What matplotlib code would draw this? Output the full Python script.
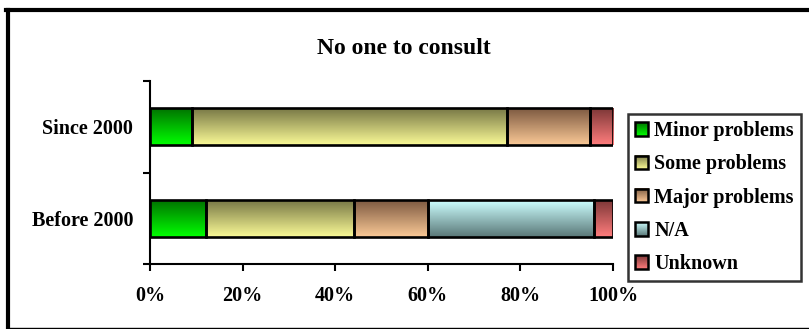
import numpy as np
import matplotlib
matplotlib.use("Agg")
import matplotlib.pyplot as plt
from matplotlib.patches import Patch, Rectangle
from matplotlib.lines import Line2D
from matplotlib.legend_handler import HandlerBase
from matplotlib.image import BboxImage
from matplotlib.transforms import Bbox, TransformedBbox

# ---- data ----
periods = ["Before 2000", "Since 2000"]
series = ["Minor problems", "Some problems", "Major problems", "N/A", "Unknown"]
minor = [12, 9]
some = [32, 68]
major = [16, 18]
na = [36, 0]
unknown = [4, 5]
xticklabels = ["0%", "20%", "40%", "60%", "80%", "100%"]

# vertical gradient (top colour, bottom colour) for each series
gradients = [
    ((0, 115, 0), (0, 255, 0)),
    ((120, 120, 70), (250, 250, 150)),
    ((125, 90, 65), (250, 200, 150)),
    ((205, 255, 255), (90, 120, 120)),
    ((125, 55, 55), (255, 125, 125)),
]

plt.rcParams["font.family"] = ["Liberation Serif", "DejaVu Serif"]
plt.rcParams["font.weight"] = "bold"

W, H = 809, 329
fig = plt.figure(figsize=(W / 100, H / 100), dpi=100)
ax = fig.add_axes([150 / W, (H - 264) / H, (613 - 150) / W, (264 - 81) / H])


def gradient_array(ctop, cbot, n=64):
    g = np.linspace(np.array(ctop) / 255, np.array(cbot) / 255, n)
    return g.reshape(n, 1, 3)


values = [minor, some, major, na, unknown]
ypos = np.arange(len(periods))
left = np.zeros(len(periods))
bar_h = 0.4

for vals, (ctop, cbot) in zip(values, gradients):
    vals = np.array(vals, dtype=float)
    bars = ax.barh(ypos, vals, left=left, height=bar_h,
                   facecolor="none", edgecolor="black",
                   linewidth=1.9, zorder=4)
    for patch, v in zip(bars.patches, vals):
        if v <= 0:
            patch.set_visible(False)
            continue
        x0, y0 = patch.get_x(), patch.get_y()
        w, h = patch.get_width(), patch.get_height()
        ax.imshow(gradient_array(ctop, cbot), extent=[x0, x0 + w, y0, y0 + h],
                  aspect="auto", origin="upper", interpolation="bilinear",
                  zorder=3)
    left += vals

ax.set_xlim(0, 100)
ax.set_ylim(-0.5, 1.5)

ax.set_xticks(np.linspace(0, 100, 6))
ax.set_xticklabels(xticklabels, fontsize=14.5, fontweight="bold")
ax.set_yticks([-0.5, 0.5, 1.5])
ax.set_yticklabels([])
ax.set_yticks(ypos, minor=True)
ax.set_yticklabels(periods, minor=True, fontsize=14.5, fontweight="bold")
ax.tick_params(axis="y", which="minor", length=0, pad=12)
ax.tick_params(axis="y", which="major", length=5, width=1.5, direction="out")
ax.tick_params(axis="x", length=5, width=1.5, direction="out", pad=11)

for s in ["top", "right"]:
    ax.spines[s].set_visible(False)
for s in ["left", "bottom"]:
    ax.spines[s].set_linewidth(1.5)
    ax.spines[s].set_zorder(5)

fig.text(404 / W, 1 - 48 / H, "No one to consult", ha="center", va="center",
         fontsize=17, fontweight="bold")


class GradientSwatch(HandlerBase):
    """Legend key drawn as a small square with the series gradient."""

    def __init__(self, ctop, cbot):
        super().__init__()
        self.ctop, self.cbot = ctop, cbot

    def create_artists(self, legend, orig_handle, xdescent, ydescent,
                       width, height, fontsize, trans):
        bbox = TransformedBbox(
            Bbox.from_bounds(-xdescent, -ydescent, width, height), trans)
        img = BboxImage(bbox, interpolation="bilinear")
        img.set_data(gradient_array(self.ctop, self.cbot))
        rect = Rectangle((-xdescent, -ydescent), width, height,
                         facecolor="none", edgecolor="black",
                         linewidth=1.8, transform=trans)
        return [img, rect]


handles = [Patch(facecolor="white", edgecolor="black") for _ in gradients]
handler_map = {h: GradientSwatch(a, b) for h, (a, b) in zip(handles, gradients)}
leg = fig.legend(handles, series, loc="upper left",
                 bbox_to_anchor=(628 / W, 1 - 114 / H),
                 frameon=True, fancybox=False, shadow=False,
                 prop={"family": "Liberation Serif", "weight": "bold", "size": 14.5},
                 handlelength=0.65, handleheight=0.65, handletextpad=0.3,
                 labelspacing=0.66, borderpad=0.35, borderaxespad=0,
                 handler_map=handler_map)
leg.get_frame().set_edgecolor("black")
leg.get_frame().set_linewidth(1.8)

# outer border of the chart area
fig.add_artist(Line2D([8 / W, 8 / W], [1 - 10 / H, 0], color="black",
                      linewidth=3, transform=fig.transFigure))
fig.add_artist(Line2D([6 / W, 1], [1 - 10 / H, 1 - 10 / H], color="black",
                      linewidth=3, transform=fig.transFigure))
fig.add_artist(Line2D([8 / W, 1], [0.8 / H, 0.8 / H], color="black",
                      linewidth=1, transform=fig.transFigure))

fig.savefig("out.png", dpi=100)
